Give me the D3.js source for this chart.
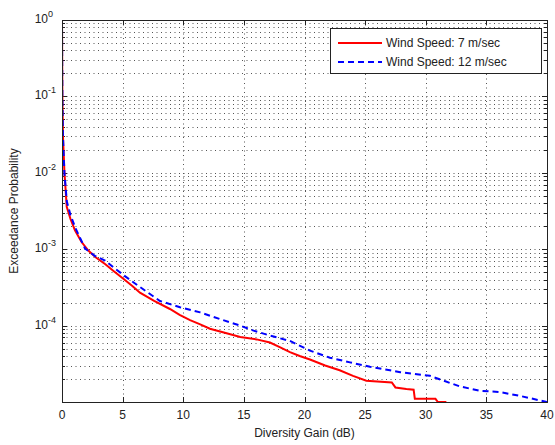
<!DOCTYPE html>
<html>
<head>
<meta charset="utf-8">
<script src="https://cdn.jsdelivr.net/npm/d3@7"></script>
<style>
  body { margin: 0; background: #fff; }
  text { font-family: "Liberation Sans", Arial, sans-serif; fill: #222; }
</style>
</head>
<body>
<div id="chart"></div>
<script>
// exceedance curves
var gain7 = [0, 0.03, 0.08, 0.2, 0.39, 0.7, 1.07, 1.6, 2.17, 2.8, 3.55, 4.3, 5.06, 5.8, 6.43, 7.6, 8.9, 9.7, 10.56, 11.4, 12.2, 13.5, 14.7, 16.05, 17.15, 18.0, 18.8, 19.6, 20.45, 21.7, 22.9, 24.0, 25.1, 27.2, 27.5, 28.4, 29.0, 29.1, 30.8, 31.0, 31.7];
var prob7 = [1, 0.1, 0.03, 0.0102, 0.0036, 0.0025, 0.00177, 0.00125, 0.00096, 0.00078, 0.00064, 0.00051, 0.00041, 0.00033, 0.00027, 0.00021, 0.000165, 0.000138, 0.000118, 0.000104, 0.000091, 0.00008, 0.000071, 0.000066, 0.00006, 0.000052, 0.000045, 0.00004, 0.000036, 0.00003, 0.000026, 0.000022, 0.000019, 0.000018, 0.0000155, 0.0000148, 0.0000145, 0.000011, 0.000011, 0.00001, 0.00001];

var gain12 = [0, 0.03, 0.08, 0.2, 0.4, 0.7, 1.1, 1.9, 2.7, 3.55, 4.3, 5.06, 6.43, 8.08, 9.73, 11.4, 13.0, 14.7, 15.8, 17.15, 18.8, 20.45, 22.1, 23.75, 25.4, 27.05, 27.9, 30.35, 32.8, 34.5, 36.1, 37.8, 39.4, 40];
var prob12 = [1, 0.1, 0.03, 0.0098, 0.0042, 0.0028, 0.0019, 0.00102, 0.00082, 0.00071, 0.00057, 0.00046, 0.00032, 0.00021, 0.000174, 0.000149, 0.000122, 0.0001, 0.000086, 0.000074, 0.000063, 0.000047, 0.000038, 0.000033, 0.000029, 0.000026, 0.0000245, 0.000022, 0.000016, 0.000014, 0.0000135, 0.000012, 0.0000105, 0.00001];

var xTicks = [0, 5, 10, 15, 20, 25, 30, 35, 40];
var yExps = [0, -1, -2, -3, -4];
var seriesNames = ["Wind Speed: 7 m/sec", "Wind Speed: 12 m/sec"];

var margin = {top: 20, right: 8, bottom: 43, left: 62},
    width = 555 - margin.left - margin.right,
    height = 445 - margin.top - margin.bottom;

var svg = d3.select("#chart").append("svg")
  .attr("width", 555).attr("height", 445)
  .append("g")
  .attr("transform", "translate(" + margin.left + "," + margin.top + ")");

var x = d3.scaleLinear().domain([0, 40]).range([0, width]);
var y = d3.scaleLog().domain([1e-5, 1]).range([height, 0]);

// all log ticks (major + minor)
var logTicks = [];
for (var e = -5; e < 0; e++) {
  for (var m = 1; m < 10; m++) logTicks.push(m * Math.pow(10, e));
}
logTicks.push(1);

// grid
var grid = svg.append("g")
  .attr("stroke", "#555")
  .attr("stroke-width", 1)
  .attr("stroke-dasharray", "1,3.5");
grid.selectAll(".hg")
  .data(logTicks.filter(function(d) { return d > 1.5e-5 && d < 0.99; }))
  .join("line")
  .attr("x1", 0).attr("x2", width)
  .attr("y1", function(d) { return Math.round(y(d)) + 0.5; })
  .attr("y2", function(d) { return Math.round(y(d)) + 0.5; });
grid.selectAll(".vg")
  .data(xTicks.slice(1, -1))
  .join("line")
  .attr("y1", 0).attr("y2", height)
  .attr("x1", function(d) { return Math.round(x(d)) + 0.5; })
  .attr("x2", function(d) { return Math.round(x(d)) + 0.5; });

// inner tick marks
var ticks = svg.append("g").attr("stroke", "#222").attr("stroke-width", 1);
logTicks.forEach(function(d) {
  var major = Math.abs(Math.log10(d) - Math.round(Math.log10(d))) < 1e-9;
  var len = major ? 5 : 3;
  var yy = Math.round(y(d)) + 0.5;
  ticks.append("line").attr("x1", 0).attr("x2", len).attr("y1", yy).attr("y2", yy);
  ticks.append("line").attr("x1", width - len).attr("x2", width).attr("y1", yy).attr("y2", yy);
});
xTicks.forEach(function(d) {
  var xx = Math.round(x(d)) + 0.5;
  ticks.append("line").attr("x1", xx).attr("x2", xx).attr("y1", height).attr("y2", height - 5);
  ticks.append("line").attr("x1", xx).attr("x2", xx).attr("y1", 0).attr("y2", 5);
});

// curves
svg.append("clipPath").attr("id", "clip")
  .append("rect").attr("width", width).attr("height", height);

var line = d3.line()
  .x(function(d) { return x(d[0]); })
  .y(function(d) { return y(d[1]); });

var plot = svg.append("g").attr("clip-path", "url(#clip)");
plot.append("path")
  .datum(d3.zip(gain7, prob7))
  .attr("d", line)
  .attr("fill", "none")
  .attr("stroke", "#ff0000")
  .attr("stroke-width", 2);
plot.append("path")
  .datum(d3.zip(gain12, prob12))
  .attr("d", line)
  .attr("fill", "none")
  .attr("stroke", "#0000ff")
  .attr("stroke-width", 2)
  .attr("stroke-dasharray", "6,4");

// frame
svg.append("rect")
  .attr("x", 0.5).attr("y", 0.5)
  .attr("width", width).attr("height", height)
  .attr("fill", "none").attr("stroke", "#222");

// x tick labels
svg.selectAll(".xl")
  .data(xTicks)
  .join("text")
  .attr("x", function(d) { return x(d); })
  .attr("y", height + 17)
  .attr("text-anchor", "middle")
  .style("font-size", "12px")
  .text(function(d) { return d; });

// y tick labels, 10^n
yExps.forEach(function(k) {
  svg.append("text")
    .attr("x", -14)
    .attr("y", y(Math.pow(10, k)) + 3)
    .attr("text-anchor", "end")
    .style("font-size", "12px")
    .text("10");
  svg.append("text")
    .attr("x", -14)
    .attr("y", y(Math.pow(10, k)) - 3)
    .style("font-size", "9px")
    .text(k);
});

// axis titles
svg.append("text")
  .attr("x", width / 2)
  .attr("y", height + 35)
  .attr("text-anchor", "middle")
  .style("font-size", "12px")
  .text("Diversity Gain (dB)");
svg.append("text")
  .attr("transform", "translate(-44," + (height / 2) + ") rotate(-90)")
  .attr("text-anchor", "middle")
  .style("font-size", "12px")
  .text("Exceedance Probability");

// legend
var lg = svg.append("g").attr("transform", "translate(268,8)");
lg.append("rect")
  .attr("x", 0.5).attr("y", 0.5)
  .attr("width", 211).attr("height", 45)
  .attr("fill", "#fff").attr("stroke", "#222");
var colors = ["#ff0000", "#0000ff"];
var dashes = [null, "6,4"];
seriesNames.forEach(function(name, i) {
  var yy = 15 + i * 19;
  lg.append("line")
    .attr("x1", 8).attr("x2", 52)
    .attr("y1", yy).attr("y2", yy)
    .attr("stroke", colors[i])
    .attr("stroke-width", 2)
    .attr("stroke-dasharray", dashes[i]);
  lg.append("text")
    .attr("x", 56).attr("y", yy + 4)
    .style("font-size", "12px")
    .text(name);
});
</script>
</body>
</html>
